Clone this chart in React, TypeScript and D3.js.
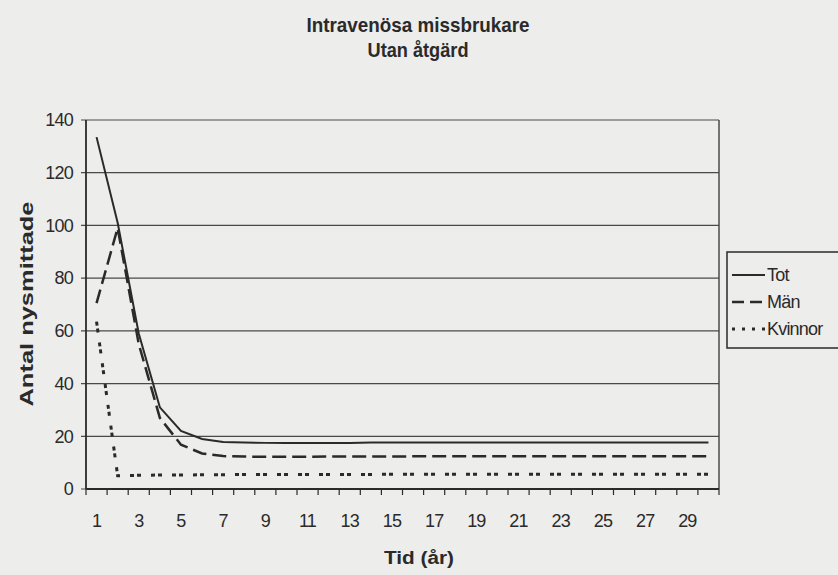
import React from "react";
import * as d3 from "d3";

// år 1..30
const years = [
  1, 2, 3, 4, 5, 6, 7, 8, 9, 10, 11, 12, 13, 14, 15,
  16, 17, 18, 19, 20, 21, 22, 23, 24, 25, 26, 27, 28, 29, 30,
];

const tot = [
  133.5, 101, 59, 31, 22, 19, 17.8, 17.6, 17.5, 17.5, 17.5, 17.5, 17.5, 17.6, 17.6,
  17.6, 17.6, 17.6, 17.6, 17.6, 17.6, 17.6, 17.6, 17.6, 17.6, 17.6, 17.6, 17.6, 17.6, 17.6,
];

const man = [
  70.5, 99, 55, 27, 16.8, 13.5, 12.5, 12.3, 12.2, 12.2, 12.2, 12.3, 12.3, 12.3, 12.3,
  12.4, 12.4, 12.4, 12.4, 12.4, 12.4, 12.4, 12.4, 12.4, 12.4, 12.4, 12.4, 12.4, 12.4, 12.4,
];

const kvinnor = [
  63.5, 5, 5.2, 5.3, 5.3, 5.4, 5.4, 5.5, 5.5, 5.5, 5.5, 5.5, 5.5, 5.5, 5.6,
  5.6, 5.6, 5.6, 5.6, 5.6, 5.6, 5.6, 5.6, 5.6, 5.6, 5.6, 5.6, 5.6, 5.6, 5.6,
];

const yTicks = [0, 20, 40, 60, 80, 100, 120, 140];

const series = [
  { name: "Tot", values: tot, dash: "none", width: 2 },
  { name: "Män", values: man, dash: "14,6", width: 2.5 },
  { name: "Kvinnor", values: kvinnor, dash: "4,3,4,10", width: 3 },
];

const W = 838;
const H = 575;
const plot = { left: 86, right: 719, top: 120, bottom: 489 };
const ink = "#2a2a2a";
const font = "'Liberation Sans', Arial, sans-serif";

export default function App() {
  const x = d3
    .scaleBand<number>()
    .domain(years)
    .range([plot.left, plot.right]);
  const y = d3.scaleLinear().domain([0, 140]).range([plot.bottom, plot.top]);
  const cx = (i: number) => (x(years[i]) as number) + x.bandwidth() / 2;

  const line = d3
    .line<number>()
    .x((_, i) => cx(i))
    .y((d) => y(d));

  const boundaries = [...years.map((d) => x(d) as number), plot.right];

  return (
    <svg
      width={W}
      height={H}
      style={{ position: "fixed", left: 0, top: 0, background: "#ededeb" }}
      fontFamily={font}
    >
      <rect x={0} y={0} width={W} height={H} fill="#ededeb" />

      {/* title */}
      <text x={418} y={32} textAnchor="middle" fontSize={21} fontWeight="bold" fill={ink}
        textLength={223} lengthAdjust="spacingAndGlyphs">
        Intravenösa missbrukare
      </text>
      <text x={418} y={57} textAnchor="middle" fontSize={21} fontWeight="bold" fill={ink}
        textLength={101} lengthAdjust="spacingAndGlyphs">
        Utan åtgärd
      </text>

      {/* gridlines + y ticks */}
      {yTicks.map((t) => (
        <g key={t}>
          <line x1={plot.left - 5} x2={plot.right} y1={y(t)} y2={y(t)} stroke="#4a4a4a" strokeWidth={1.2} />
          <text x={73} y={y(t)} dy="0.35em" textAnchor="end" fontSize={18} fill={ink} letterSpacing={-0.8}>
            {t}
          </text>
        </g>
      ))}

      {/* frame */}
      <line x1={plot.right} x2={plot.right} y1={plot.top} y2={plot.bottom} stroke="#4a4a4a" strokeWidth={1.5} />
      <line x1={plot.left} x2={plot.left} y1={plot.top} y2={plot.bottom} stroke={ink} strokeWidth={1.8} />
      <line x1={plot.left} x2={plot.right} y1={plot.bottom} y2={plot.bottom} stroke={ink} strokeWidth={1.8} />

      {/* x ticks */}
      {boundaries.map((b, i) => (
        <line key={i} x1={b} x2={b} y1={plot.bottom} y2={plot.bottom + 6} stroke={ink} strokeWidth={1.2} />
      ))}
      {years.filter((d) => d % 2 === 1).map((d) => (
        <text key={d} x={(x(d) as number) + x.bandwidth() / 2} y={527} textAnchor="middle" fontSize={18}
          fill={ink} letterSpacing={-0.8}>
          {d}
        </text>
      ))}

      {/* axis titles */}
      <text x={419} y={564} textAnchor="middle" fontSize={18} fontWeight="bold" fill={ink}
        textLength={70} lengthAdjust="spacingAndGlyphs">
        Tid (år)
      </text>
      <text transform="translate(33,304) rotate(-90)" textAnchor="middle" fontSize={18} fontWeight="bold"
        fill={ink} textLength={205} lengthAdjust="spacingAndGlyphs">
        Antal nysmittade
      </text>

      {/* series */}
      {series.map((s) => (
        <path key={s.name} d={line(s.values) ?? ""} fill="none" stroke={ink} strokeWidth={s.width}
          strokeDasharray={s.dash} />
      ))}

      {/* legend */}
      <rect x={727} y={252} width={125} height={96} fill="#ededeb" stroke={ink} strokeWidth={1.5} />
      {series.map((s, i) => {
        const ly = 275 + i * 27;
        return (
          <g key={s.name}>
            <line x1={732} x2={765} y1={ly} y2={ly} stroke={ink} strokeWidth={s.width}
              strokeDasharray={i === 0 ? "none" : i === 1 ? "12,6" : "3,7"} />
            <text x={767} y={ly} dy="0.35em" fontSize={18} fill={ink} letterSpacing={-0.8}>
              {s.name}
            </text>
          </g>
        );
      })}
    </svg>
  );
}
